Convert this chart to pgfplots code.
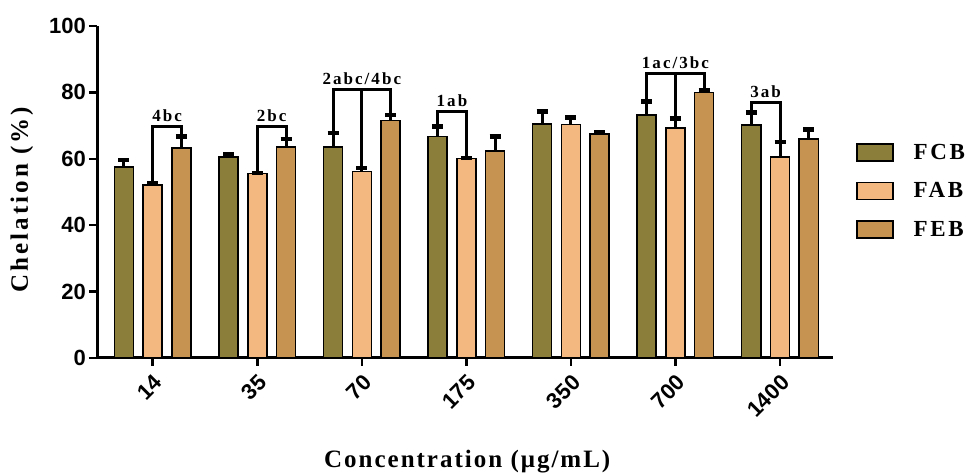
\documentclass[border=0pt]{standalone}
\usepackage{fontspec}
\setmainfont{Liberation Serif}
\newfontfamily\serifls[LetterSpace=12]{Liberation Serif}
\newfontfamily\seriflx[LetterSpace=8]{Liberation Serif}
\newfontfamily\sansls{Liberation Sans}
\usepackage{pgfplots}
\pgfplotsset{compat=1.18}
\usepackage{pgfplotstable}
\definecolor{cFCB}{RGB}{139,125,58}
\definecolor{cFAB}{RGB}{242,184,128}
\definecolor{cFEB}{RGB}{198,148,80}
\pgfplotstableread{
x y e
0 57.6 2.1
1 60.6 0.8
2 63.6 4.1
3 66.7 3.0
4 70.5 3.7
5 73.2 4.1
6 70.2 3.8
}\FCB
\pgfplotstableread{
x y e
0 52.1 0.5
1 55.6 0.1
2 56.1 1.1
3 60.1 0.2
4 70.4 2.1
5 69.2 3.0
6 60.6 4.4
}\FAB
\pgfplotstableread{
x y e
0 63.2 3.5
1 63.6 2.4
2 71.5 1.7
3 62.4 4.3
4 67.5 0.5
5 79.9 0.6
6 65.9 2.9
}\FEB
\begin{document}
\begin{tikzpicture}[x=1pt,y=1pt]
\useasboundingbox (0,0) rectangle (972,473);
\begin{axis}[
  at={(97pt,115pt)}, anchor=south west,
  scale only axis, width=736pt, height=332pt,
  xmin=-0.533, xmax=6.507, ymin=0, ymax=100,
  axis lines=left,
  axis line style={-, line width=3pt},
  ybar, bar width=0.182,
  xtick={0,...,6},
  xticklabels={14,35,70,175,350,700,1400},
  ytick={0,20,...,100},
  tick style={line width=2.5pt, black},
  tick align=outside, major tick length=8pt,
  /pgf/number format/assume math mode=true,
  ticklabel style={font=\sansls\bfseries\fontsize{22}{22}\selectfont},
  xticklabel style={rotate=45, anchor=north east, inner sep=5pt},
  yticklabel style={inner sep=3pt},
  xlabel={\seriflx\bfseries Concentration (μg/mL)},
  ylabel={Chelation (\%)},
  label style={font=\serifls\bfseries\fontsize{25}{25}\selectfont},
  xlabel style={at={(axis description cs:0.503,-0.331)}, anchor=base},
  ylabel style={at={(axis description cs:-0.102,0.477)}, anchor=center},
  error bars/y dir=plus, error bars/y explicit,
  error bars/error bar style={line width=3pt, black},
  error bars/error mark options={rotate=90, line width=4.5pt, mark size=5.5pt, black},
  legend style={at={(1.031,0.648)}, anchor=north west, draw=none, fill=none,
    inner sep=0pt, row sep=20pt,
    font=\serifls\bfseries\fontsize{23}{23}\selectfont,
    nodes={inner sep=0pt, anchor=west}},
  legend cell align=left,
  legend image code/.code={\draw[#1, draw=black, line width=1.5pt] (0pt,-8.5pt) rectangle (36pt,8.5pt); \path (56pt,0pt);},
]
\addplot[fill=cFCB, draw=black, line width=1.5pt, bar shift=-0.275] table[x=x,y=y,y error=e] {\FCB};
\addlegendentry{FCB}
\addplot[fill=cFAB, draw=black, line width=1.5pt, bar shift=0] table[x=x,y=y,y error=e] {\FAB};
\addlegendentry{FAB}
\addplot[fill=cFEB, draw=black, line width=1.5pt, bar shift=0.275] table[x=x,y=y,y error=e] {\FEB};
\addlegendentry{FEB}
% brackets
\begin{scope}[line width=3pt, black, font=\serifls\bfseries\fontsize{17}{17}\selectfont]
\draw (axis cs:0,52.6) |- (axis cs:0.275,69.7) -- (axis cs:0.275,66.7);
\node[above, inner sep=3pt] at (axis cs:0.1375,69.7) {4bc};
\draw (axis cs:1,55.7) |- (axis cs:1.275,69.7) -- (axis cs:1.275,66.0);
\node[above, inner sep=3pt] at (axis cs:1.1375,69.7) {2bc};
\draw (axis cs:1.725,67.7) |- (axis cs:2.275,81.0) -- (axis cs:2.275,73.2);
\draw (axis cs:2,81.0) -- (axis cs:2,57.2);
\node[above, inner sep=3pt] at (axis cs:2,81.0) {2abc/4bc};
\draw (axis cs:2.725,69.7) |- (axis cs:3,74.2) -- (axis cs:3,60.3);
\node[above, inner sep=3pt] at (axis cs:2.8625,74.2) {1ab};
\draw (axis cs:4.725,77.3) |- (axis cs:5.275,85.7) -- (axis cs:5.275,80.5);
\draw (axis cs:5,85.7) -- (axis cs:5,72.2);
\node[above, inner sep=3pt] at (axis cs:5,85.7) {1ac/3bc};
\draw (axis cs:5.725,74.0) |- (axis cs:6,77.0) -- (axis cs:6,65.0);
\node[above, inner sep=3pt] at (axis cs:5.8625,77.0) {3ab};
\end{scope}
\end{axis}
\end{tikzpicture}
\end{document}
